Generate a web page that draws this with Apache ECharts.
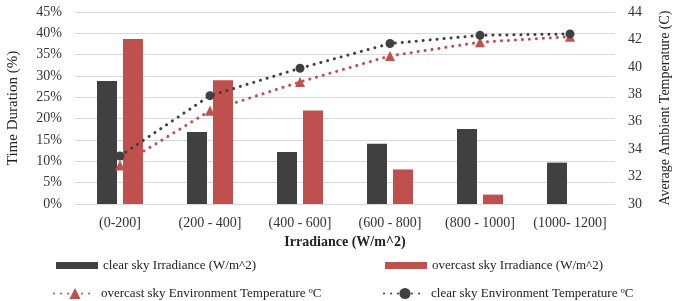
<!DOCTYPE html>
<html>
<head>
<meta charset="utf-8">
<script src="https://cdn.jsdelivr.net/npm/echarts@6/dist/echarts.min.js"></script>
<style>
  html, body { margin: 0; padding: 0; background: #fff; }
  #chart { width: 680px; height: 301px; }
</style>
</head>
<body>
<div id="chart"></div>
<script>
let categories = ['(0-200]', '(200 - 400]', '(400 - 600]', '(600 - 800]', '(800 - 1000]', '(1000- 1200]']
let clearIrr = [28.8, 16.9, 12.2, 14.1, 17.6, 9.7]
let overcastIrr = [38.7, 29.0, 21.9, 8.1, 2.2, 0]
let overcastTemp = [32.8, 36.8, 38.9, 40.8, 41.8, 42.2]
let clearTemp = [33.5, 37.9, 39.9, 41.7, 42.3, 42.4]

const font = '"Liberation Serif", "Times New Roman", serif'
const dark = '#404040'
const red = '#c0504d'
const dots = [0.1, 6.9]

let chart = echarts.init(document.getElementById('chart'))

let legendBase = {
    itemGap: 5,
    textStyle: { fontFamily: font, fontSize: 13, color: '#222' },
    itemWidth: 42,
    itemHeight: 14
}

chart.setOption({
    animation: false,
    textStyle: { fontFamily: font },
    grid: { left: 75, right: 65, top: 12, bottom: 97, outerBoundsMode: 'none', containLabel: false },
    legend: [
        Object.assign({}, legendBase, { left: 51, top: 254, icon: 'rect', itemHeight: 7, data: ['clear sky Irradiance (W/m^2)'] }),
        Object.assign({}, legendBase, { left: 380, top: 254, icon: 'rect', itemHeight: 7, data: ['overcast sky Irradiance (W/m^2)'] }),
        Object.assign({}, legendBase, { left: 48, top: 282, data: ['overcast sky Environment Temperature ºC'] }),
        Object.assign({}, legendBase, { left: 378, top: 282, data: ['clear sky Environment Temperature ºC'] })
    ],
    xAxis: {
        type: 'category',
        data: categories,
        name: 'Irradiance (W/m^2)',
        nameLocation: 'middle',
        nameGap: 31,
        nameTextStyle: { fontFamily: font, fontSize: 14, fontWeight: 'bold', color: '#222' },
        axisLine: { lineStyle: { color: '#d9d9d9', width: 1 } },
        axisTick: { show: false },
        axisLabel: { interval: 0, fontFamily: font, fontSize: 14, color: '#333', margin: 12 }
    },
    yAxis: [{
        type: 'value',
        min: 0,
        max: 45,
        interval: 5,
        name: 'Time Duration (%)',
        nameLocation: 'middle',
        nameGap: 54,
        nameTextStyle: { fontFamily: font, fontSize: 15, color: '#222' },
        axisLabel: { formatter: '{value}%', fontFamily: font, fontSize: 14, color: '#333', margin: 13 },
        splitLine: { lineStyle: { color: '#d9d9d9', width: 1 } }
    }, {
        type: 'value',
        min: 30,
        max: 44,
        interval: 2,
        name: 'Average Ambient Temperature (C)',
        nameLocation: 'middle',
        nameGap: 43,
        nameTextStyle: { fontFamily: font, fontSize: 14, color: '#222' },
        axisLabel: { fontFamily: font, fontSize: 14, color: '#333', margin: 13 },
        splitLine: { show: false }
    }],
    series: [{
        name: 'clear sky Irradiance (W/m^2)',
        type: 'bar',
        data: clearIrr,
        barWidth: 20,
        barGap: '30%',
        itemStyle: { color: dark }
    }, {
        name: 'overcast sky Irradiance (W/m^2)',
        type: 'bar',
        data: overcastIrr,
        barWidth: 20,
        barGap: '30%',
        itemStyle: { color: red }
    }, {
        name: 'overcast sky Environment Temperature ºC',
        type: 'line',
        yAxisIndex: 1,
        data: overcastTemp,
        symbol: 'triangle',
        symbolSize: 10,
        itemStyle: { color: red },
        lineStyle: { color: red, width: 3, type: dots, cap: 'round' }
    }, {
        name: 'clear sky Environment Temperature ºC',
        type: 'line',
        yAxisIndex: 1,
        data: clearTemp,
        symbol: 'circle',
        symbolSize: 9,
        itemStyle: { color: dark },
        lineStyle: { color: dark, width: 3, type: dots, cap: 'round' }
    }]
})
</script>
</body>
</html>
